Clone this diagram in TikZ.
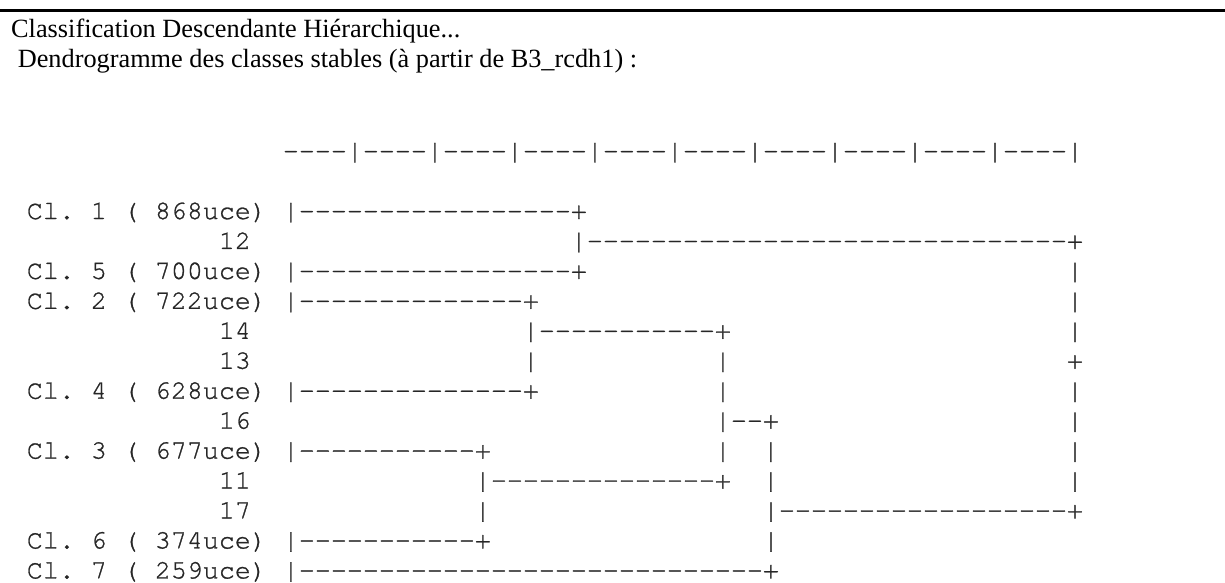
\documentclass[tikz,border=0pt]{standalone}
\usepackage{fontspec}
\setmainfont{Liberation Serif}
\setmonofont{TeX Gyre Cursor}[FakeBold=1]
\ExplSyntaxOn
\cs_new:Npn \Rep #1#2 { \prg_replicate:nn {#1} {#2} }
\ExplSyntaxOff
\newcommand\Dsh[1]{\Rep{#1}{-\kern0pt}}
\newcommand\Sps[1]{\Rep{#1}{~}}
\tikzset{
  mono/.style={font=\fontsize{26.67}{30}\selectfont\ttfamily, text=black!85, inner sep=0pt, anchor=base west},
  ttl/.style={font=\fontsize{26.3}{30}\selectfont\rmfamily, text=black, inner sep=0pt, anchor=base west},
  toprule/.style={line width=3pt, draw=black}
}
\newcommand\TreeRow[3]{\node[mono] (#1) at (282.67,{219+29.95*(#2)}) {#3};}
\newcommand\LabRow[4]{\node[mono] (#1) at ({282.67+16*(#3)},{219+29.95*(#2)}) {#4};}
\begin{document}
\begin{tikzpicture}[x=1pt,y=-1pt]
\useasboundingbox (0,0) rectangle (1225,582);
\fill[white] (0,0) rectangle (1225,582);
\draw[toprule] (0,10.8) -- (1225,10.8);
\node[ttl] (t1) at (11,37.5) {Classification Descendante Hiérarchique...};
\node[ttl] (t2) at (17.6,67.8) {Dendrogramme des classes stables (à partir de B3\_rcdh1) :};
% axis
\TreeRow{axis}{-2}{\Rep{10}{\Dsh{4}|}}
% labels
\LabRow{l0}{0}{-16}{Cl.~1~(~868uce)}
\LabRow{l1}{1}{-4}{12}
\LabRow{l2}{2}{-16}{Cl.~5~(~700uce)}
\LabRow{l3}{3}{-16}{Cl.~2~(~722uce)}
\LabRow{l4}{4}{-4}{14}
\LabRow{l5}{5}{-4}{13}
\LabRow{l6}{6}{-16}{Cl.~4~(~628uce)}
\LabRow{l7}{7}{-4}{16}
\LabRow{l8}{8}{-16}{Cl.~3~(~677uce)}
\LabRow{l9}{9}{-4}{11}
\LabRow{l10}{10}{-4}{17}
\LabRow{l11}{11}{-16}{Cl.~6~(~374uce)}
\LabRow{l12}{12}{-16}{Cl.~7~(~259uce)}
% tree rows
\TreeRow{r0}{0}{|\Dsh{17}+}
\TreeRow{r1}{1}{\Sps{18}|\Dsh{30}+}
\TreeRow{r2}{2}{|\Dsh{17}+\Sps{30}|}
\TreeRow{r3}{3}{|\Dsh{14}+\Sps{33}|}
\TreeRow{r4}{4}{\Sps{15}|\Dsh{11}+\Sps{21}|}
\TreeRow{r5}{5}{\Sps{15}|\Sps{11}|\Sps{21}+}
\TreeRow{r6}{6}{|\Dsh{14}+\Sps{11}|\Sps{21}|}
\TreeRow{r7}{7}{\Sps{27}|\Dsh{2}+\Sps{18}|}
\TreeRow{r8}{8}{|\Dsh{11}+\Sps{14}|\Sps{2}|\Sps{18}|}
\TreeRow{r9}{9}{\Sps{12}|\Dsh{14}+\Sps{2}|\Sps{18}|}
\TreeRow{r10}{10}{\Sps{12}|\Sps{17}|\Dsh{18}+}
\TreeRow{r11}{11}{|\Dsh{11}+\Sps{17}|}
\TreeRow{r12}{12}{|\Dsh{29}+}
\end{tikzpicture}
\end{document}
